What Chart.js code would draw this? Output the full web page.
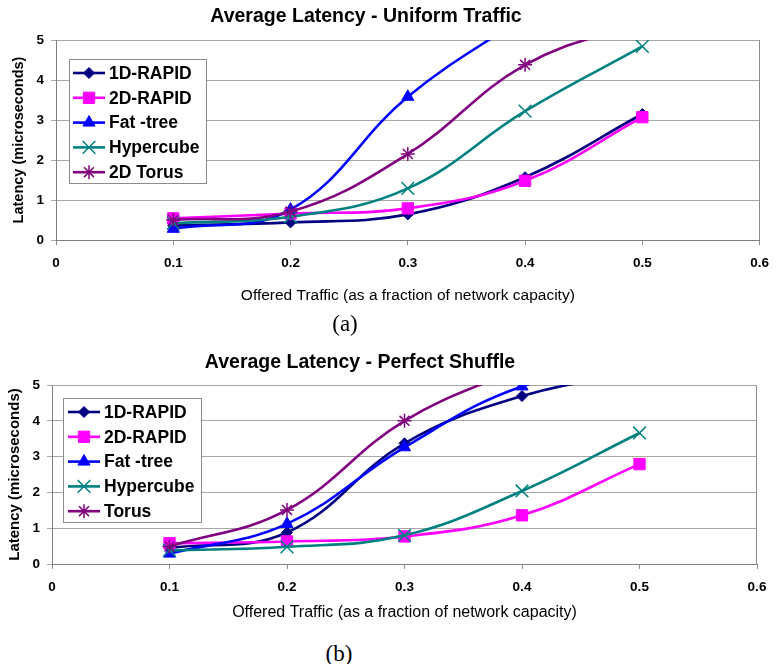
<!DOCTYPE html>
<html>
<head>
<meta charset="utf-8">
<title>Average Latency</title>
<script src="https://cdn.jsdelivr.net/npm/chart.js@4.4.1/dist/chart.umd.min.js"></script>
<style>
  html, body { margin: 0; padding: 0; background: #fff; }
  #page { position: relative; width: 779px; height: 664px; overflow: hidden;
          font-family: "Liberation Sans", Arial, sans-serif; color: #000; }
  .panel { position: absolute; left: 0; }
  .panel canvas { display: block; }
  .lbl { position: absolute; white-space: nowrap; line-height: 1; transform: translate(-50%, -50%); }
  .heading { font-weight: bold; font-size: 19.5px; }
  .caption { font-family: "Liberation Serif", "Times New Roman", serif; font-size: 23px; }
</style>
</head>
<body>
<div id="page">
  <div class="panel" style="top:0px"><canvas id="uniform" width="779" height="310"></canvas></div>
  <div class="panel" style="top:330px"><canvas id="shuffle" width="779" height="294"></canvas></div>
  <div class="lbl heading" style="left:366px; top:16px">Average Latency - Uniform Traffic</div>
  <div class="lbl caption" style="left:345px; top:323px">(a)</div>
  <div class="lbl heading" style="left:360px; top:361.5px">Average Latency - Perfect Shuffle</div>
  <div class="lbl caption" style="left:339px; top:653px">(b)</div>
</div>
<script>
// Offered load (fraction of network capacity) at which each latency was measured
const offeredTraffic = [0.1, 0.2, 0.3, 0.4, 0.5];

// Axis ticks
const xTickValues = [0, 0.1, 0.2, 0.3, 0.4, 0.5, 0.6];
const xTickLabels = ['0', '0.1', '0.2', '0.3', '0.4', '0.5', '0.6'];
const yTickValues = [0, 1, 2, 3, 4, 5];
const yTickLabels = ['0', '1', '2', '3', '4', '5'];

const xAxisTitle = 'Offered Traffic (as a fraction of network capacity)';
const yAxisTitle = 'Latency (microseconds)';

// Uniform traffic latency, microseconds (null = not measured)
const uniform1D        = [0.36, 0.44, 0.64, 1.57, 3.15];
const uniform2D        = [0.54, 0.66, 0.79, 1.48, 3.07];
const uniformFatTree   = [0.28, 0.76, 3.58, 5.60, null];
const uniformHypercube = [0.42, 0.58, 1.29, 3.22, 4.84];
const uniformTorus     = [0.50, 0.71, 2.15, 4.38, 5.45];
const uniformNames = ['1D-RAPID', '2D-RAPID', 'Fat -tree', 'Hypercube', '2D Torus'];

// Perfect shuffle latency, microseconds (null = not measured)
const shuffle1D        = [0.45, 0.88, 3.37, 4.69, 5.35];
const shuffle2D        = [0.58, 0.63, 0.77, 1.36, 2.79];
const shuffleFatTree   = [0.29, 1.12, 3.26, 4.96, 5.50];
const shuffleHypercube = [0.38, 0.48, 0.80, 2.04, 3.66];
const shuffleTorus     = [0.49, 1.51, 4.00, 5.50, null];
const shuffleNames = ['1D-RAPID', '2D-RAPID', 'Fat -tree', 'Hypercube', 'Torus'];

const FONT = '"Liberation Sans", Arial, sans-serif';

// Line colour and marker for each network, in series order
const seriesLook = [
  { color: '#000080', pointStyle: 'rectRot',  radius: 5.5, pointBorderWidth: 1 },
  { color: '#ff00ff', pointStyle: 'rect',     radius: 8,   pointBorderWidth: 1 },
  { color: '#0000ff', pointStyle: 'triangle', radius: 7,   pointBorderWidth: 1 },
  { color: '#008080', pointStyle: 'crossRot', radius: 9,   pointBorderWidth: 1.5 },
  { color: '#800080', pointStyle: 'star',     radius: 7,   pointBorderWidth: 1.5 }
];

function buildDatasets(names, valueLists) {
  return names.map((name, i) => {
    const look = seriesLook[i];
    const pts = [];
    offeredTraffic.forEach((x, k) => {
      if (valueLists[i][k] !== null) pts.push({ x: x, y: valueLists[i][k] });
    });
    return {
      label: name,
      data: pts,
      borderColor: look.color,
      backgroundColor: look.color,
      borderWidth: 2.6,
      pointStyle: look.pointStyle,
      pointRadius: look.radius,
      pointBorderWidth: look.pointBorderWidth,
      pointBackgroundColor: look.color,
      pointBorderColor: look.color,
      tension: 0.4,
      fill: false,
      order: names.length - i   // later series are painted on top
    };
  });
}

// Marker drawing: use Chart.js' own point renderer
function drawMarker(ctx, ds, x, y) {
  const opts = { pointStyle: ds.pointStyle, radius: ds.pointRadius, rotation: 0, borderWidth: ds.pointBorderWidth };
  ctx.save();
  ctx.fillStyle = ds.pointBackgroundColor;
  ctx.strokeStyle = ds.pointBorderColor;
  ctx.lineWidth = ds.pointBorderWidth;
  if (Chart.helpers && Chart.helpers.drawPoint) {
    Chart.helpers.drawPoint(ctx, opts, x, y);
  }
  ctx.restore();
}

// Boxed legend inside the plot, each entry shows line + marker + name
const boxLegend = {
  id: 'boxLegend',
  afterDraw(chart, args, o) {
    const ctx = chart.ctx;
    ctx.save();
    ctx.fillStyle = '#ffffff';
    ctx.fillRect(o.left, o.top, o.width, o.height);
    ctx.strokeStyle = '#8c8c8c';
    ctx.lineWidth = 1;
    ctx.strokeRect(o.left + 0.5, o.top + 0.5, o.width, o.height);
    ctx.font = 'bold ' + o.fontSize + 'px ' + FONT;
    ctx.textBaseline = 'middle';
    ctx.textAlign = 'left';
    chart.data.datasets.forEach((ds, i) => {
      const y = o.top + o.firstRow + i * o.rowGap;
      ctx.strokeStyle = ds.borderColor;
      ctx.lineWidth = ds.borderWidth;
      ctx.beginPath();
      ctx.moveTo(o.lineStart, y);
      ctx.lineTo(o.lineEnd, y);
      ctx.stroke();
      drawMarker(ctx, ds, (o.lineStart + o.lineEnd) / 2, y);
      ctx.fillStyle = '#000';
      ctx.fillText(ds.label, o.textX, y + 1);
    });
    ctx.restore();
  }
};

// Right-hand edge of the plot frame
const plotFrame = {
  id: 'plotFrame',
  beforeDatasetsDraw(chart) {
    const a = chart.chartArea;
    const ctx = chart.ctx;
    ctx.save();
    ctx.strokeStyle = '#8c8c8c';
    ctx.lineWidth = 1;
    ctx.beginPath();
    ctx.moveTo(Math.round(a.right) - 0.5, a.top);
    ctx.lineTo(Math.round(a.right) - 0.5, a.bottom);
    ctx.stroke();
    ctx.restore();
  }
};

function buildOptions(cfg) {
  return {
    responsive: false,
    animation: false,
    events: [],
    layout: { padding: { top: cfg.padTop, left: cfg.padLeft, right: cfg.padRight, bottom: 0 } },
    plugins: {
      legend: { display: false },
      title: { display: false },
      tooltip: { enabled: false },
      boxLegend: cfg.legend
    },
    scales: {
      x: {
        type: 'linear', min: 0, max: 0.6,
        afterBuildTicks: s => { s.ticks = xTickValues.map(v => ({ value: v })); },
        afterFit: s => { s.height = cfg.xAxisHeight; },
        grid: { drawOnChartArea: false, drawTicks: true, tickLength: 5, color: '#8c8c8c' },
        border: { color: '#808080', width: 1 },
        ticks: {
          padding: 10, color: '#000', maxRotation: 0, autoSkip: false,
          font: { family: FONT, size: 13.5, weight: 'bold' },
          callback: (v, i) => xTickLabels[i]
        },
        title: {
          display: true, text: xAxisTitle, color: '#000',
          font: { family: FONT, size: cfg.xTitleSize },
          padding: { top: 0, bottom: cfg.xTitlePadBottom }
        }
      },
      y: {
        min: 0, max: 5,
        afterBuildTicks: s => { s.ticks = yTickValues.map(v => ({ value: v })); },
        afterFit: s => { s.width = cfg.yAxisWidth; },
        grid: { color: '#a8a8a8', tickLength: 5, lineWidth: 1 },
        border: { color: '#808080', width: 1 },
        ticks: {
          padding: 7, color: '#000',
          font: { family: FONT, size: 13.5, weight: 'bold' },
          callback: (v, i) => yTickLabels[i]
        },
        title: {
          display: true, text: yAxisTitle, color: '#000',
          font: { family: FONT, size: cfg.yTitleSize, weight: 'bold' },
          padding: { top: cfg.yTitlePadTop, bottom: 0 }
        }
      }
    }
  };
}

new Chart(document.getElementById('uniform'), {
  type: 'line',
  data: { datasets: buildDatasets(uniformNames,
    [uniform1D, uniform2D, uniformFatTree, uniformHypercube, uniformTorus]) },
  options: buildOptions({
    padTop: 40, padLeft: 4, padRight: 12,
    xAxisHeight: 70, yAxisWidth: 52,
    xTitleSize: 15.5, xTitlePadBottom: 5,
    yTitleSize: 14.5, yTitlePadTop: 6,
    legend: { left: 69, top: 59, width: 137, height: 124, firstRow: 14, rowGap: 24.8,
              lineStart: 73, lineEnd: 105, textX: 109, fontSize: 17.5 }
  }),
  plugins: [plotFrame, boxLegend]
});

new Chart(document.getElementById('shuffle'), {
  type: 'line',
  data: { datasets: buildDatasets(shuffleNames,
    [shuffle1D, shuffle2D, shuffleFatTree, shuffleHypercube, shuffleTorus]) },
  options: buildOptions({
    padTop: 55, padLeft: 3, padRight: 22,
    xAxisHeight: 60, yAxisWidth: 49,
    xTitleSize: 16, xTitlePadBottom: 2,
    yTitleSize: 15, yTitlePadTop: 3,
    legend: { left: 63, top: 68, width: 138, height: 124, firstRow: 14, rowGap: 24.8,
              lineStart: 68, lineEnd: 100, textX: 104, fontSize: 17.5 }
  }),
  plugins: [plotFrame, boxLegend]
});
</script>
</body>
</html>
